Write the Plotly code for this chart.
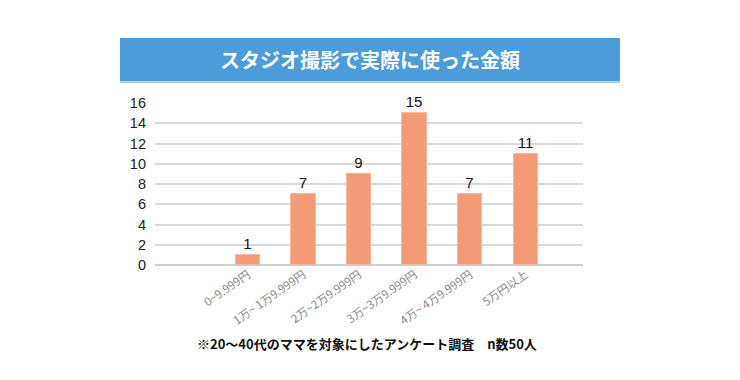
import plotly.graph_objects as go

categories = ["0~9.999円", "1万~ 1万9.999円", "2万~2万9.999円", "3万~3万9.999円", "4万~ 4万9.999円", "5万円以上"]
counts = [1, 7, 9, 15, 7, 11]
y_ticks = [0, 2, 4, 6, 8, 10, 12, 14, 16]

title_text = "スタジオ撮影で実際に使った金額"
note_text = "※20～40代のママを対象にしたアンケート調査　n数50人"

OFF = 8  # page body margin
W, H = 740 - 2 * OFF, 380 - 2 * OFF
L, R, T, B = 155 - OFF, 583 - OFF, 103 - OFF, 265 - OFF

def px(x):
    return (x - OFF - L) / (R - L)

def py(y):
    return (B - (y - OFF)) / (B - T)

font_num = "Liberation Sans, Arial, Noto Sans CJK JP, sans-serif"
font_jp = "Noto Sans CJK JP, sans-serif"

fig = go.Figure(go.Bar(
    x=list(range(len(categories))),
    y=counts,
    width=0.44,
    marker=dict(color="#F29B76", line=dict(color="#F6B79B", width=1)),
    text=[str(v) for v in counts],
    textposition="outside",
    cliponaxis=False,
    textfont=dict(family=font_num, size=15, color="#111111"),
))

fig.update_layout(
    width=W, height=H,
    margin=dict(l=L, r=W - R, t=T, b=H - B),
    plot_bgcolor="white", paper_bgcolor="white",
    showlegend=False,
    bargap=0,
    xaxis=dict(
        range=[-1.67, 6.03],
        tickmode="array",
        tickvals=list(range(len(categories))),
        ticktext=categories,
        tickangle=-35,
        tickfont=dict(family=font_jp, size=11.5, color="#8a8a8a"),
        showgrid=False,
        showline=False,
        zeroline=False,
        ticks="",
    ),
    yaxis=dict(
        range=[0, 16],
        tickvals=y_ticks,
        tickfont=dict(family=font_num, size=14.5, color="#222222"),
        showgrid=True,
        gridcolor="#d9d9d9",
        gridwidth=1.5,
        zeroline=True,
        zerolinecolor="#cfcfcf",
        zerolinewidth=1.5,
        showline=False,
        ticks="",
        ticklabelstandoff=8,
    ),
    shapes=[
        dict(type="rect", xref="paper", yref="paper",
             x0=px(120), x1=px(620), y0=py(83), y1=py(81),
             fillcolor="#a9cfee", line=dict(width=0), layer="above"),
        dict(type="rect", xref="paper", yref="paper",
             x0=px(120), x1=px(620), y0=py(81), y1=py(38),
             fillcolor="#4C9BDB", line=dict(width=0), layer="above"),
    ],
    annotations=[
        dict(text="<b>" + title_text + "</b>", xref="paper", yref="paper",
             x=px(370), y=py(60), showarrow=False, xanchor="center", yanchor="middle",
             font=dict(family=font_jp, size=20, color="white")),
        dict(text="<b>" + note_text + "</b>", xref="paper", yref="paper",
             x=px(195), y=py(343), showarrow=False, xanchor="left", yanchor="middle",
             font=dict(family=font_jp, size=13, color="#111111")),
    ],
)

fig.write_html("out.html")
